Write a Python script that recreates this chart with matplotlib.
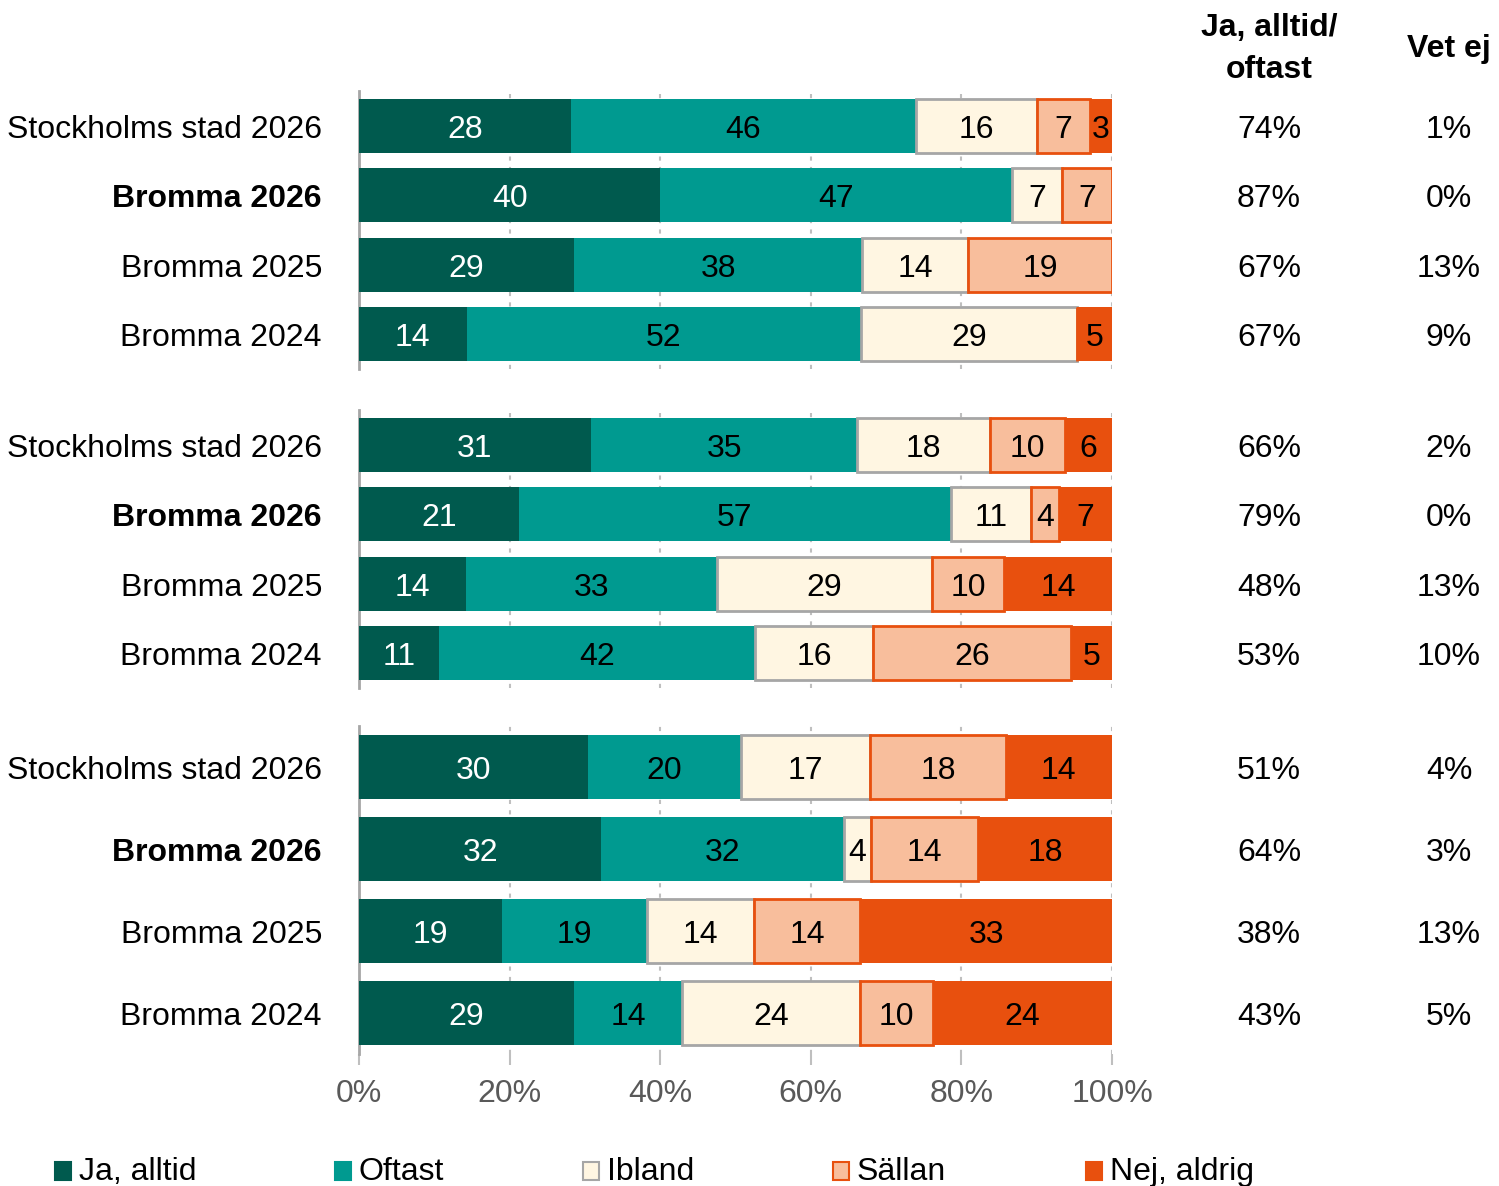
import matplotlib
matplotlib.use("Agg")
import matplotlib.pyplot as plt
import matplotlib.transforms as mtrans
from matplotlib.patches import Rectangle

plt.rcParams['font.family'] = ['Liberation Sans', 'DejaVu Sans']

categories = ["Ja, alltid", "Oftast", "Ibland", "Sällan", "Nej, aldrig"]
row_labels = ["Stockholms stad 2026", "Bromma 2026", "Bromma 2025", "Bromma 2024"]
bold_rows = [False, True, False, False]

# Panel 1
p1_ja = [28.1, 40.0, 28.6, 14.3]
p1_oftast = [45.9, 46.7, 38.2, 52.4]
p1_ibland = [16.0, 6.7, 14.1, 28.7]
p1_sallan = [7.1, 6.6, 19.1, 0.0]
p1_nej = [2.9, 0.0, 0.0, 4.6]
p1_ja_oftast = [74, 87, 67, 67]
p1_vet_ej = [1, 0, 13, 9]

# Panel 2
p2_ja = [30.8, 21.2, 14.2, 10.6]
p2_oftast = [35.4, 57.4, 33.3, 42.0]
p2_ibland = [17.6, 10.7, 28.6, 15.7]
p2_sallan = [9.9, 3.6, 9.6, 26.3]
p2_nej = [6.3, 7.1, 14.3, 5.4]
p2_ja_oftast = [66, 79, 48, 53]
p2_vet_ej = [2, 0, 13, 10]

# Panel 3
p3_ja = [30.4, 32.2, 19.0, 28.6]
p3_oftast = [20.3, 32.2, 19.2, 14.3]
p3_ibland = [17.2, 3.6, 14.2, 23.7]
p3_sallan = [18.0, 14.2, 14.2, 9.6]
p3_nej = [14.1, 17.8, 33.4, 23.8]
p3_ja_oftast = [51, 64, 38, 43]
p3_vet_ej = [4, 3, 13, 5]

xticks = [0, 20, 40, 60, 80, 100]
xtick_labels = ["0%", "20%", "40%", "60%", "80%", "100%"]

colors = ["#005A4E", "#009A90", "#FFF6E2", "#F8BE9C", "#E8500E"]
edges = [None, None, "#A6A6A6", "#E8500E", None]
text_colors = ["white", "black", "black", "black", "black"]

panels = [
    ([p1_ja, p1_oftast, p1_ibland, p1_sallan, p1_nej], p1_ja_oftast, p1_vet_ej),
    ([p2_ja, p2_oftast, p2_ibland, p2_sallan, p2_nej], p2_ja_oftast, p2_vet_ej),
    ([p3_ja, p3_oftast, p3_ibland, p3_sallan, p3_nej], p3_ja_oftast, p3_vet_ej),
]

W, H = 1499, 1186
fig = plt.figure(figsize=(W / 100, H / 100), dpi=100)

# axes extents in pixels (top, bottom)
extents = [(91, 369), (410, 688), (726, 1054)]
x_left, x_right = 359, 1112
FS = 23
DY = -3  # points downward shift for text centring

for i, ((series, jo, ve), (top, bot)) in enumerate(zip(panels, extents)):
    ax = fig.add_axes([x_left / W, 1 - bot / H, (x_right - x_left) / W, (bot - top) / H])
    ypos = list(range(len(row_labels)))
    left = [0.0] * len(row_labels)
    dtr = mtrans.offset_copy(ax.transData, fig=fig, x=0, y=DY, units="points")
    for k, vals in enumerate(series):
        kw = dict(color=colors[k], height=0.77, zorder=3)
        if edges[k]:
            kw.update(edgecolor=edges[k], linewidth=2)
        else:
            kw.update(linewidth=0)
        ax.barh(ypos, vals, left=left, **kw)
        for j, v in enumerate(vals):
            if v > 0:
                ax.text(left[j] + v / 2, ypos[j], f"{round(v)}", ha="center", va="center",
                        fontsize=FS, color=text_colors[k], zorder=4, transform=dtr)
        left = [l + v for l, v in zip(left, vals)]
    ax.set_xlim(0, 100)
    ax.set_ylim(3.5, -0.5)
    ax.set_yticks([])
    ax.set_xticks(xticks)
    ax.xaxis.grid(True, linestyle=(0, (2, 3)), color="#BFBFBF", linewidth=1.5)
    ax.set_axisbelow(True)
    for s in ["top", "right", "bottom"]:
        ax.spines[s].set_visible(False)
    ax.spines["left"].set_color("#A6A6A6")
    ax.spines["left"].set_linewidth(2)
    if i == 2:
        ax.set_xticklabels(xtick_labels)
        ax.tick_params(axis="x", length=8, width=1.5, color="#BFBFBF", labelsize=FS,
                       labelcolor="#595959", pad=10)
    else:
        ax.tick_params(axis="x", length=0, labelbottom=False)

    tr = mtrans.blended_transform_factory(fig.transFigure, ax.transData)
    tr = mtrans.offset_copy(tr, fig=fig, x=0, y=DY, units="points")
    for j, lab in enumerate(row_labels):
        ax.text(322 / W, ypos[j], lab, transform=tr, ha="right", va="center", fontsize=FS,
                fontweight="bold" if bold_rows[j] else "normal", color="black")
        ax.text(1269 / W, ypos[j], f"{jo[j]}%", transform=tr, ha="center", va="center",
                fontsize=FS, color="black")
        ax.text(1449 / W, ypos[j], f"{ve[j]}%", transform=tr, ha="center", va="center",
                fontsize=FS, color="black")

# Column headers
fig.text(1269 / W, 1 - 49 / H, "Ja, alltid/\noftast", ha="center", va="center",
         fontsize=FS, fontweight="bold", linespacing=1.5)
fig.text(1449 / W, 1 - 49 / H, "Vet ej", ha="center", va="center",
         fontsize=FS, fontweight="bold")

# Legend
leg_x = [55, 335, 583, 833, 1086]
for k, cat in enumerate(categories):
    x0 = leg_x[k]
    fig.add_artist(Rectangle((x0 / W, 1 - 1180 / H), 16 / W, 18 / H, transform=fig.transFigure,
                             facecolor=colors[k], edgecolor=edges[k] if edges[k] else colors[k],
                             linewidth=1.5))
    fig.text((x0 + 24) / W, 1 - 1172 / H, cat, ha="left", va="center", fontsize=FS,
             color="black")

fig.savefig("out.png", dpi=100)
